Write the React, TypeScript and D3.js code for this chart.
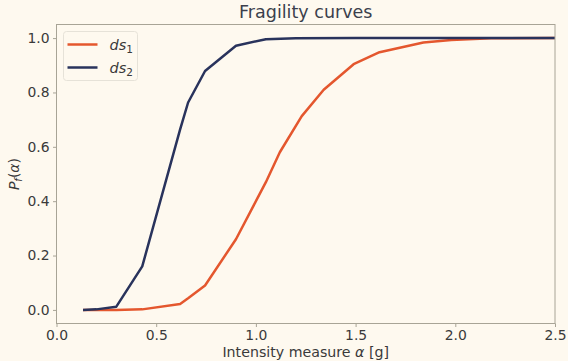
import * as d3 from 'd3';
import { useEffect, useRef } from 'react';

const WIDTH = 568;
const HEIGHT = 361;

// intensity levels (g) and exceedance probabilities
const ds1X = [0.133, 0.2, 0.3, 0.43, 0.62, 0.66, 0.745, 0.9, 1.05, 1.12, 1.23, 1.34, 1.49, 1.62, 1.84, 1.98, 2.18, 2.5];
const ds1Y = [0, 0, 0, 0.002, 0.022, 0.043, 0.09, 0.26, 0.47, 0.58, 0.713, 0.81, 0.904, 0.948, 0.984, 0.993, 0.999, 1.0];
const ds2X = [0.133, 0.2, 0.3, 0.43, 0.62, 0.66, 0.745, 0.9, 1.05, 1.2, 1.5, 2.5];
const ds2Y = [0, 0.002, 0.012, 0.16, 0.664, 0.763, 0.879, 0.972, 0.996, 0.999, 1.0, 1.0];

const xTicks = [0, 0.5, 1.0, 1.5, 2.0, 2.5];
const yTicks = [0, 0.2, 0.4, 0.6, 0.8, 1.0];

const series = [
    { name: 'ds', sub: '1', xs: ds1X, ys: ds1Y, color: '#e4572e' },
    { name: 'ds', sub: '2', xs: ds2X, ys: ds2Y, color: '#29335c' },
];

export default function App() {
    const svgRef = useRef<SVGSVGElement | null>(null);

    useEffect(() => {
        if (!svgRef.current) return;
        document.body.style.margin = '0';
        const svg = d3.select(svgRef.current);
        svg.selectAll('*').remove();

        const margin = { top: 24.5, right: 13, bottom: 37.5, left: 56.5 };
        const innerW = WIDTH - margin.left - margin.right;
        const innerH = HEIGHT - margin.top - margin.bottom;
        const font = '"DejaVu Sans", sans-serif';
        const textColor = '#3a3a3a';
        const spine = '#a8a496';

        svg.append('rect').attr('width', WIDTH).attr('height', HEIGHT).attr('fill', '#fef9ef');

        const x = d3.scaleLinear().domain([0, 2.5]).range([0, innerW]);
        const y = d3.scaleLinear().domain([-0.05, 1.05]).range([innerH, 0]);

        const g = svg.append('g').attr('transform', `translate(${margin.left},${margin.top})`);

        g.append('defs')
            .append('clipPath')
            .attr('id', 'plot-clip')
            .append('rect')
            .attr('width', innerW)
            .attr('height', innerH);

        const line = d3
            .line<[number, number]>()
            .x((d) => x(d[0]))
            .y((d) => y(d[1]));

        series.forEach((s) => {
            const pts: [number, number][] = s.xs.map((v, i) => [v, s.ys[i]]);
            g.append('path')
                .datum(pts)
                .attr('clip-path', 'url(#plot-clip)')
                .attr('fill', 'none')
                .attr('stroke', s.color)
                .attr('stroke-width', 2.5)
                .attr('stroke-linejoin', 'round')
                .attr('d', line);
        });

        // axes
        const xAxis = g
            .append('g')
            .attr('transform', `translate(0,${innerH})`)
            .call(d3.axisBottom(x).tickValues(xTicks).tickFormat(d3.format('.1f')).tickSize(3.5).tickPadding(3));
        const yAxis = g
            .append('g')
            .call(d3.axisLeft(y).tickValues(yTicks).tickFormat(d3.format('.1f')).tickSize(3.5).tickPadding(3.5));
        [xAxis, yAxis].forEach((ax) => {
            ax.select('.domain').remove();
            ax.selectAll('line').attr('stroke', spine);
            ax.selectAll('text').attr('fill', textColor).style('font-family', font).style('font-size', '13.9px');
        });

        g.append('rect')
            .attr('width', innerW)
            .attr('height', innerH)
            .attr('fill', 'none')
            .attr('stroke', spine)
            .attr('stroke-width', 1);

        // legend
        const lg = g.append('g').attr('transform', 'translate(7,7)');
        lg.append('rect')
            .attr('width', 74)
            .attr('height', 49)
            .attr('rx', 3)
            .attr('fill', '#fef9ef')
            .attr('stroke', '#e6e2d8')
            .attr('stroke-width', 1);
        series.forEach((s, i) => {
            const row = lg.append('g').attr('transform', `translate(0,${13 + i * 23})`);
            row.append('line')
                .attr('x1', 4)
                .attr('x2', 34)
                .attr('stroke', s.color)
                .attr('stroke-width', 2.5);
            const t = row
                .append('text')
                .attr('x', 46)
                .attr('y', 5)
                .attr('fill', textColor)
                .style('font-family', font)
                .style('font-size', '14.5px');
            t.append('tspan').style('font-style', 'italic').text(s.name);
            t.append('tspan').attr('dy', 3).style('font-size', '10.5px').text(s.sub);
        });

        // title and labels
        svg.append('text')
            .attr('x', margin.left + innerW / 2)
            .attr('y', 18)
            .attr('text-anchor', 'middle')
            .attr('fill', '#3b3f4c')
            .style('font-family', font)
            .style('font-size', '17.5px')
            .text('Fragility curves');

        const xl = svg
            .append('text')
            .attr('x', margin.left + innerW / 2)
            .attr('y', 357)
            .attr('text-anchor', 'middle')
            .attr('fill', textColor)
            .style('font-family', font)
            .style('font-size', '14.2px');
        xl.append('tspan').text('Intensity measure ');
        xl.append('tspan').style('font-style', 'italic').text('α');
        xl.append('tspan').text(' [g]');

        const yl = svg
            .append('text')
            .attr('transform', `translate(19,${margin.top + innerH / 2}) rotate(-90)`)
            .attr('text-anchor', 'middle')
            .attr('fill', textColor)
            .style('font-family', font)
            .style('font-size', '14px');
        yl.append('tspan').style('font-style', 'italic').text('P');
        yl.append('tspan').attr('dy', 3).style('font-size', '10px').style('font-style', 'italic').text('f');
        yl.append('tspan').attr('dy', -3).text('(');
        yl.append('tspan').style('font-style', 'italic').text('α');
        yl.append('tspan').text(')');
    }, []);

    return <svg ref={svgRef} width={WIDTH} height={HEIGHT} style={{ display: 'block' }} />;
}
